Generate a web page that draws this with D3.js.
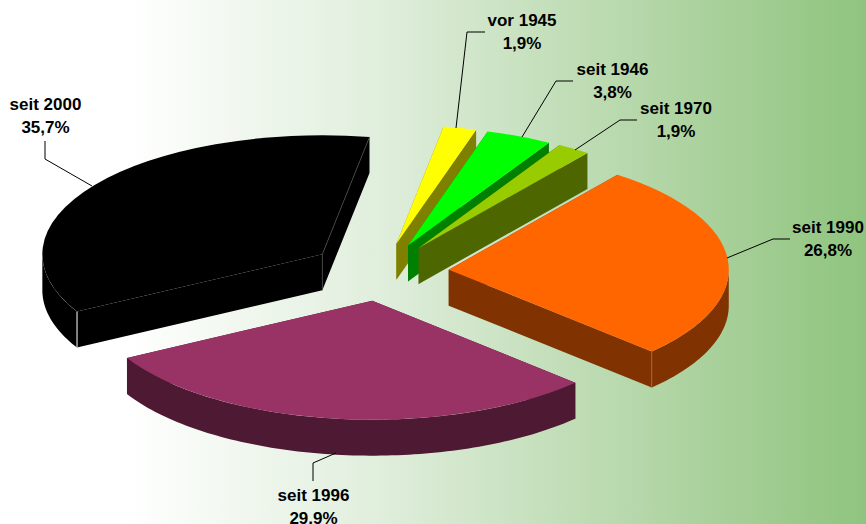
<!DOCTYPE html>
<html><head><meta charset="utf-8">
<script src="https://cdn.jsdelivr.net/npm/d3@7/dist/d3.min.js"></script>
<style>html,body{margin:0;padding:0;overflow:hidden;background:#fff}svg{display:block}</style>
</head><body><svg id="c" width="866" height="524"></svg>
<script>
const categories = ["vor 1945","seit 1946","seit 1970","seit 1990","seit 1996","seit 2000"];
const values = [1.9,3.8,1.9,26.8,29.9,35.7];
const valueLabels = ["1,9%","3,8%","1,9%","26,8%","29,9%","35,7%"];
const topColors = ["#ffff00","#00ff00","#99cc00","#ff6600","#993366","#000000"];
const wallColors = ["#808000","#008000","#4d6600","#803300","#4d1933","#000000"];

const W=866,H=524, cx=381, cy=272, R=280, K=0.425, DEPTH=36;
const explode=[68,68,68,68,68,72];
const ROT=9.7*Math.PI/180;
// label anchors and leader routes, layout only
const labelPos=[[522,26],[612.5,75],[676,114],[828,233],[313.5,501],[45.5,110]];
const leaders=[
 [[456,128],[467,32],[485,32]],
 [[522,137],[556,81],[573,81]],
 [[575,150],[620,120],[637,120]],
 [[727,258],[773,239],[790,239]],
 [[336,453],[313,463],[313,481]],
 [[92,186],[45,159],[45,141]]
];

const svg=d3.select("#c");
const defs=svg.append("defs");
const g=defs.append("linearGradient").attr("id","bg").attr("x1",0).attr("x2",1).attr("y1",0).attr("y2",0);
[[0,"#ffffff"],[0.145,"#ffffff"],[0.44,"#e0eedc"],[0.83,"#a8d09a"],[1,"#8fc47e"]].forEach(s=>g.append("stop").attr("offset",s[0]).attr("stop-color",s[1]));
svg.append("rect").attr("width",W).attr("height",H).attr("fill","url(#bg)");

const arcs=d3.pie().sort(null).startAngle(ROT).endAngle(ROT+2*Math.PI)(values);
const pt=(o,a,r=R,z=0)=>[o[0]+r*Math.sin(a), o[1]-K*r*Math.cos(a)+z];
const line=d3.line();
const arcGen=d3.arc().innerRadius(0).outerRadius(R);

const slices=svg.append("g");
arcs.forEach((d,i)=>{
  const mid=(d.startAngle+d.endAngle)/2;
  const o=pt([cx,cy],mid,explode[i]);
  const gs=slices.append("g");
  const a0=d.startAngle,a1=d.endAngle;
  // radial walls
  [a0,a1].forEach(a=>{
    const p=pt(o,a), q=[p[0],p[1]+DEPTH], o2=[o[0],o[1]+DEPTH];
    gs.append("path").attr("d",line([o,p,q,o2])+"Z").attr("fill",wallColors[i]);
  });
  // outer rim wall, front facing portion only
  const from=Math.max(a0,Math.PI/2), to=Math.min(a1,3*Math.PI/2);
  if(to>from){
    const as=d3.range(from,to,0.02).concat([to]);
    const area=d3.area().x(a=>pt(o,a)[0]).y0(a=>pt(o,a)[1]).y1(a=>pt(o,a)[1]+DEPTH);
    gs.append("path").attr("d",area(as)).attr("fill",wallColors[i]);
  }
  // top face
  gs.append("path").attr("d",arcGen(d))
    .attr("transform",`translate(${o[0]},${o[1]}) scale(1,${K})`).attr("fill",topColors[i]);
  // seams
  if(i===5){
    const a=pt(o,a0), b=pt(o,a1);
    gs.append("path").attr("d",line([a,[a[0],a[1]+DEPTH]])).attr("stroke","#fff").attr("stroke-width",1).attr("fill","none");
    gs.append("path").attr("d",line([b,o,[o[0],o[1]+DEPTH]])).attr("stroke","#4a4a4a").attr("stroke-width",0.7).attr("fill","none");
  }
  if(i===3){
    const b=pt(o,a1);
    gs.append("path").attr("d",line([b,[b[0],b[1]+DEPTH]])).attr("stroke","#a8682a").attr("stroke-width",1).attr("fill","none");
  }
});

const lab=svg.append("g").attr("font-family","'Liberation Sans',Arial,sans-serif").attr("font-weight","bold").attr("font-size",17).attr("fill","#000").attr("text-anchor","middle");
categories.forEach((c,i)=>{
  svg.append("path").attr("d",line(leaders[i])).attr("fill","none").attr("stroke","#000").attr("stroke-width",1);
  lab.append("text").attr("x",labelPos[i][0]).attr("y",labelPos[i][1]).text(c);
  lab.append("text").attr("x",labelPos[i][0]).attr("y",labelPos[i][1]+22.5).text(valueLabels[i]);
});
</script></body></html>
